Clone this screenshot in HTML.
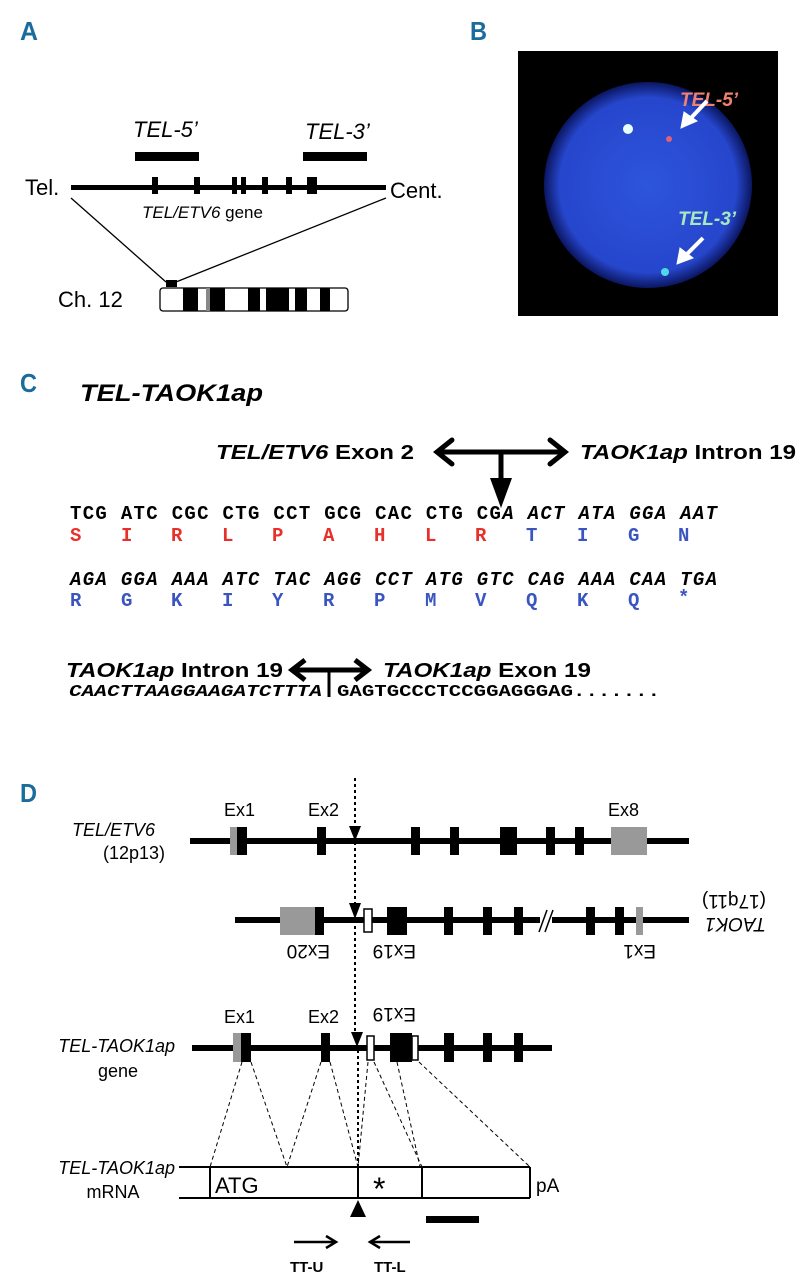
<!DOCTYPE html>
<html><head><meta charset="utf-8"><style>
html,body{margin:0;padding:0;background:#fff}
svg{display:block}
text{font-family:"Liberation Sans",sans-serif}
text.lab{font-family:"Liberation Sans",sans-serif;font-weight:bold;fill:#1a6c9c;font-size:26px}
text.mono{font-family:"Liberation Mono",monospace;font-weight:bold;font-size:19px}
.b{font-weight:bold}
</style></head><body>
<svg width="802" height="1280" viewBox="0 0 802 1280" xmlns="http://www.w3.org/2000/svg">
<!-- Labels -->
<text class="lab" x="20" y="40" textLength="18" lengthAdjust="spacingAndGlyphs">A</text>
<text class="lab" x="470" y="40" textLength="17" lengthAdjust="spacingAndGlyphs">B</text>
<text class="lab" x="20" y="392" textLength="17" lengthAdjust="spacingAndGlyphs">C</text>
<text class="lab" x="20" y="802" textLength="17" lengthAdjust="spacingAndGlyphs">D</text>

<!-- Panel A -->
<text x="133" y="137" font-size="22" font-style="italic">TEL-5’</text>
<text x="305" y="139" font-size="22" font-style="italic">TEL-3’</text>
<rect x="135" y="152" width="64" height="9" fill="#000"/>
<rect x="303" y="152" width="64" height="9" fill="#000"/>
<text x="25" y="195" font-size="22">Tel.</text>
<text x="390" y="198" font-size="22">Cent.</text>
<rect x="71" y="185" width="315" height="5" fill="#000"/>
<rect x="152" y="177" width="6" height="17" fill="#000"/>
<rect x="194" y="177" width="6" height="17" fill="#000"/>
<rect x="232" y="177" width="5" height="17" fill="#000"/>
<rect x="241" y="177" width="5" height="17" fill="#000"/>
<rect x="262" y="177" width="6" height="17" fill="#000"/>
<rect x="286" y="177" width="6" height="17" fill="#000"/>
<rect x="307" y="177" width="10" height="17" fill="#000"/>
<text x="142" y="218" font-size="17"><tspan font-style="italic">TEL/ETV6</tspan> gene</text>
<line x1="71" y1="198" x2="166" y2="282" stroke="#000" stroke-width="1.3"/>
<line x1="386" y1="198" x2="176" y2="282" stroke="#000" stroke-width="1.3"/>
<rect x="166" y="280" width="11" height="7" fill="#000"/>
<text x="58" y="307" font-size="22">Ch. 12</text>
<rect x="160" y="288" width="188" height="23" rx="3" fill="#fff" stroke="#000" stroke-width="1.3"/>
<rect x="183" y="288" width="15" height="23" fill="#000"/>
<rect x="210" y="288" width="15" height="23" fill="#000"/>
<rect x="206" y="288" width="4" height="23" fill="#888"/>
<rect x="248" y="288" width="12" height="23" fill="#000"/>
<rect x="266" y="288" width="23" height="23" fill="#000"/>
<rect x="295" y="288" width="12" height="23" fill="#000"/>
<rect x="320" y="288" width="10" height="23" fill="#000"/>

<!-- Panel B -->
<defs>
<radialGradient id="cell" cx="50%" cy="50%" r="50%">
<stop offset="0" stop-color="#2d55dc"/><stop offset="0.85" stop-color="#2646cc"/><stop offset="1" stop-color="#0b1660"/>
</radialGradient>
</defs>
<rect x="518" y="51" width="260" height="265" fill="#000"/>
<ellipse cx="648" cy="185" rx="104" ry="103" fill="url(#cell)"/>
<circle cx="628" cy="129" r="5" fill="#e8ffff"/>
<circle cx="669" cy="139" r="3" fill="#e0607a"/>
<circle cx="665" cy="272" r="4" fill="#4fd8e8"/>
<text x="680" y="106" font-size="19" font-weight="bold" font-style="italic" fill="#f08070">TEL-5’</text>
<text x="678" y="225" font-size="19" font-weight="bold" font-style="italic" fill="#a8e8c0">TEL-3’</text>
<g stroke="#fff" stroke-width="4" fill="#fff">
<line x1="707" y1="101" x2="690" y2="119"/>
<polygon points="681,128 684,112 697,121" stroke-width="1"/>
<line x1="703" y1="238" x2="686" y2="255"/>
<polygon points="677,264 680,248 693,258" stroke-width="1"/>
</g>

<!-- Panel C -->
<text x="80" y="401" font-size="24" font-weight="bold" font-style="italic" textLength="183" lengthAdjust="spacingAndGlyphs">TEL-TAOK1ap</text>
<text x="216" y="459" font-size="20" class="b" textLength="198" lengthAdjust="spacingAndGlyphs"><tspan font-style="italic">TEL/ETV6</tspan> Exon 2</text>
<text x="580" y="459" font-size="20" class="b" textLength="216" lengthAdjust="spacingAndGlyphs"><tspan font-style="italic">TAOK1ap</tspan> Intron 19</text>
<g stroke="#000" stroke-width="5" fill="none" stroke-linecap="round">
<line x1="438" y1="452" x2="564" y2="452"/>
<polyline points="452,440 437,452 452,464"/>
<polyline points="550,440 565,452 550,464"/>
<line x1="501" y1="452" x2="501" y2="480"/>
</g>
<polygon points="490,478 512,478 501,508" fill="#000"/>

<text class="mono" x="70" y="519" textLength="647" lengthAdjust="spacing">TCG ATC CGC CTG CCT GCG CAC CTG CG<tspan font-style="italic">A ACT ATA GGA AAT</tspan></text>
<text class="mono" x="70" y="585" font-style="italic" textLength="647" lengthAdjust="spacing">AGA GGA AAA ATC TAC AGG CCT ATG GTC CAG AAA CAA TGA</text>
<g fill="#3a55c0">
<text class="mono" x="526" y="541">T</text><text class="mono" x="577" y="541">I</text><text class="mono" x="628" y="541">G</text><text class="mono" x="678" y="541">N</text>
<text class="mono" x="70" y="606">R</text><text class="mono" x="121" y="606">G</text><text class="mono" x="171" y="606">K</text><text class="mono" x="222" y="606">I</text><text class="mono" x="272" y="606">Y</text><text class="mono" x="323" y="606">R</text><text class="mono" x="374" y="606">P</text><text class="mono" x="425" y="606">M</text><text class="mono" x="475" y="606">V</text><text class="mono" x="526" y="606">Q</text><text class="mono" x="577" y="606">K</text><text class="mono" x="628" y="606">Q</text><text class="mono" x="678" y="603">*</text>
</g>
<g fill="#e8302a">
<text class="mono" x="70" y="541">S</text><text class="mono" x="121" y="541">I</text><text class="mono" x="171" y="541">R</text><text class="mono" x="222" y="541">L</text><text class="mono" x="272" y="541">P</text><text class="mono" x="323" y="541">A</text><text class="mono" x="374" y="541">H</text><text class="mono" x="425" y="541">L</text><text class="mono" x="475" y="541">R</text>
</g>

<text x="66" y="677" font-size="20" class="b" textLength="217" lengthAdjust="spacingAndGlyphs"><tspan font-style="italic">TAOK1ap</tspan> Intron 19</text>
<text x="383" y="677" font-size="20" class="b" textLength="208" lengthAdjust="spacingAndGlyphs"><tspan font-style="italic">TAOK1ap</tspan> Exon 19</text>
<g stroke="#000" stroke-width="5" fill="none">
<line x1="293" y1="670" x2="367" y2="670"/>
<polyline points="305,660 292,670 305,680"/>
<polyline points="355,660 368,670 355,680"/>
</g>
<line x1="329" y1="670" x2="329" y2="697" stroke="#000" stroke-width="3"/>
<text class="mono" x="69" y="696" style="font-size:17px" font-style="italic" textLength="253" lengthAdjust="spacingAndGlyphs">CAACTTAAGGAAGATCTTTA</text>
<text class="mono" x="337" y="696" style="font-size:17px" textLength="323" lengthAdjust="spacingAndGlyphs">GAGTGCCCTCCGGAGGGAG.......</text>

<!-- Panel D -->
<text x="155" y="836" font-size="18" font-style="italic" text-anchor="end">TEL/ETV6</text>
<text x="134" y="859" font-size="18" text-anchor="middle">(12p13)</text>
<text x="224" y="816" font-size="18">Ex1</text>
<text x="308" y="816" font-size="18">Ex2</text>
<text x="608" y="816" font-size="18">Ex8</text>
<rect x="190" y="838" width="499" height="6" fill="#000"/>
<rect x="230" y="827" width="8" height="28" fill="#999"/>
<rect x="237" y="827" width="10" height="28" fill="#000"/>
<rect x="317" y="827" width="9" height="28" fill="#000"/>
<rect x="411" y="827" width="9" height="28" fill="#000"/>
<rect x="450" y="827" width="9" height="28" fill="#000"/>
<rect x="500" y="827" width="17" height="28" fill="#000"/>
<rect x="546" y="827" width="9" height="28" fill="#000"/>
<rect x="575" y="827" width="9" height="28" fill="#000"/>
<rect x="611" y="827" width="36" height="28" fill="#999"/>

<rect x="235" y="917" width="454" height="6" fill="#000"/>
<rect x="280" y="907" width="35" height="28" fill="#999"/>
<rect x="315" y="907" width="9" height="28" fill="#000"/>
<rect x="364" y="909" width="8" height="23" fill="#fff" stroke="#000" stroke-width="1.5"/>
<rect x="387" y="907" width="20" height="28" fill="#000"/>
<rect x="444" y="907" width="9" height="28" fill="#000"/>
<rect x="483" y="907" width="9" height="28" fill="#000"/>
<rect x="514" y="907" width="9" height="28" fill="#000"/>
<rect x="540" y="910" width="12" height="22" fill="#fff"/>
<line x1="539" y1="932" x2="547" y2="910" stroke="#000" stroke-width="1.5"/>
<line x1="545" y1="932" x2="553" y2="910" stroke="#000" stroke-width="1.5"/>
<rect x="586" y="907" width="9" height="28" fill="#000"/>
<rect x="615" y="907" width="9" height="28" fill="#000"/>
<rect x="636" y="907" width="7" height="28" fill="#999"/>
<g font-size="19">
<text transform="translate(330,945) rotate(180)">Ex20</text>
<text transform="translate(416,945) rotate(180)">Ex19</text>
<text transform="translate(656,945) rotate(180)">Ex1</text>
<text transform="translate(766,918) rotate(180)" font-style="italic">TAOK1</text>
<text transform="translate(766,895) rotate(180)">(17q11)</text>
<text transform="translate(416,1008) rotate(180)">Ex19</text>
</g>

<g stroke="#000" stroke-width="2" stroke-dasharray="3,3">
<line x1="355" y1="778" x2="355" y2="828"/>
<line x1="355" y1="842" x2="355" y2="904"/>
<line x1="355" y1="920" x2="355" y2="1034"/>
<line x1="358" y1="1050" x2="358" y2="1167"/>
</g>
<polygon points="349,826 361,826 355,841" fill="#000"/>
<polygon points="349,903 361,903 355,919" fill="#000"/>
<polygon points="351,1032 363,1032 357,1047" fill="#000"/>

<text x="175" y="1052" font-size="18" font-style="italic" text-anchor="end">TEL-TAOK1ap</text>
<text x="118" y="1077" font-size="18" text-anchor="middle">gene</text>
<text x="224" y="1023" font-size="18">Ex1</text>
<text x="308" y="1023" font-size="18">Ex2</text>
<rect x="192" y="1045" width="360" height="6" fill="#000"/>
<rect x="233" y="1033" width="8" height="29" fill="#999"/>
<rect x="241" y="1033" width="10" height="29" fill="#000"/>
<rect x="321" y="1033" width="9" height="29" fill="#000"/>
<rect x="367" y="1036" width="7" height="24" fill="#fff" stroke="#000" stroke-width="1.5"/>
<rect x="390" y="1033" width="22" height="29" fill="#000"/>
<rect x="412" y="1036" width="6" height="24" fill="#fff" stroke="#000" stroke-width="1.5"/>
<rect x="444" y="1033" width="10" height="29" fill="#000"/>
<rect x="483" y="1033" width="9" height="29" fill="#000"/>
<rect x="514" y="1033" width="9" height="29" fill="#000"/>

<g stroke="#000" stroke-width="1" stroke-dasharray="4,3">
<line x1="242" y1="1062" x2="210" y2="1167"/>
<line x1="251" y1="1062" x2="287" y2="1167"/>
<line x1="321" y1="1062" x2="287" y2="1167"/>
<line x1="330" y1="1062" x2="358" y2="1167"/>
<line x1="368" y1="1062" x2="358" y2="1167"/>
<line x1="374" y1="1062" x2="422" y2="1167"/>
<line x1="397" y1="1062" x2="420" y2="1167"/>
<line x1="419" y1="1062" x2="530" y2="1167"/>
</g>

<text x="175" y="1174" font-size="18" font-style="italic" text-anchor="end">TEL-TAOK1ap</text>
<text x="113" y="1198" font-size="18" text-anchor="middle">mRNA</text>
<line x1="179" y1="1167" x2="530" y2="1167" stroke="#000" stroke-width="2"/>
<line x1="179" y1="1198" x2="530" y2="1198" stroke="#000" stroke-width="2"/>
<g stroke="#000" stroke-width="2">
<line x1="210" y1="1167" x2="210" y2="1198"/>
<line x1="358" y1="1167" x2="358" y2="1198"/>
<line x1="422" y1="1167" x2="422" y2="1198"/>
<line x1="530" y1="1167" x2="530" y2="1198"/>
</g>
<text x="215" y="1193" font-size="22">ATG</text>
<text x="373" y="1200" font-size="32">*</text>
<text x="536" y="1192" font-size="19">pA</text>
<polygon points="350,1217 366,1217 358,1200" fill="#000"/>
<rect x="426" y="1216" width="53" height="7" fill="#000"/>
<g stroke="#000" stroke-width="2.5" fill="none">
<line x1="294" y1="1242" x2="334" y2="1242"/>
<polyline points="326,1236 336,1242 326,1248"/>
<line x1="371" y1="1242" x2="410" y2="1242"/>
<polyline points="380,1236 370,1242 380,1248"/>
</g>
<text x="290" y="1272" font-size="15" class="b">TT-U</text>
<text x="374" y="1272" font-size="15" class="b">TT-L</text>
</svg>
</body></html>
